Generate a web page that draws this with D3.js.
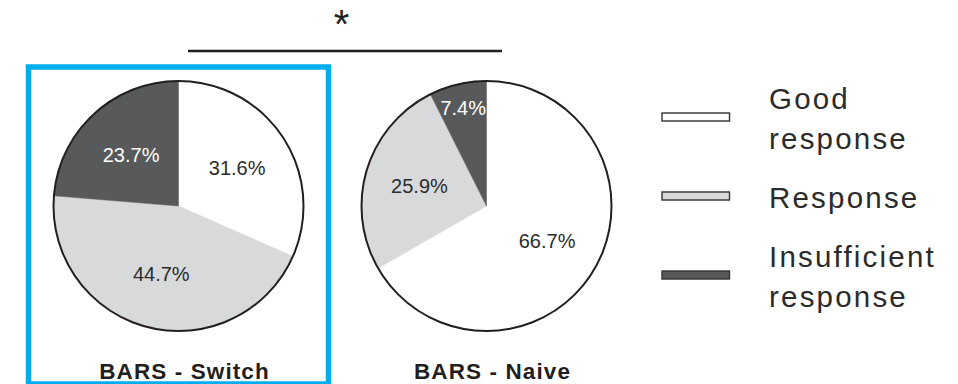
<!DOCTYPE html>
<html>
<head>
<meta charset="utf-8">
<script src="https://cdn.jsdelivr.net/npm/d3@7"></script>
<style>
  html, body { margin: 0; padding: 0; background: #fff; }
  svg { display: block; }
  text { font-family: "Liberation Sans", Arial, Helvetica, sans-serif; }
</style>
</head>
<body>
<svg id="chart" width="958" height="384"></svg>
<script>
// Response categories, in slice order (clockwise from 12 o'clock)
const categories = ["Good response", "Response", "Insufficient response"];
// Treatment groups, one pie each
const groups = ["BARS - Switch", "BARS - Naive"];
// Percentage of patients per category
const switchValues = [31.6, 44.7, 23.7];
const naiveValues = [66.7, 25.9, 7.4];
const groupValues = [switchValues, naiveValues];
// Significance marker between the two groups
const significanceLabel = "*";

const W = 958, H = 384;
const svg = d3.select("#chart");

const color = d3.scaleOrdinal()
  .domain(categories)
  .range(["#ffffff", "#d8d9db", "#58595b"]);
const labelColor = d3.scaleOrdinal()
  .domain(categories)
  .range(["#2b2b2b", "#2b2b2b", "#ffffff"]);

const R = 125;
const cy = 206;
const xPie = d3.scalePoint().domain(groups).range([178.5, 486.5]);

const pie = d3.pie().sort(null).value(d => d.value);
const arc = d3.arc().innerRadius(0).outerRadius(R);

// Highlight frame around the first group
const frameHalf = 150;
svg.append("rect")
  .attr("x", xPie(groups[0]) - frameHalf)
  .attr("y", 67)
  .attr("width", frameHalf * 2)
  .attr("height", 317)
  .attr("fill", "none")
  .attr("stroke", "#00aeef")
  .attr("stroke-width", 5.5);

groups.forEach((g, gi) => {
  const data = categories.map((c, i) => ({ category: c, value: groupValues[gi][i] }));
  const arcs = pie(data);
  const gp = svg.append("g").attr("transform", `translate(${xPie(g)},${cy})`);

  gp.selectAll("path.slice")
    .data(arcs)
    .join("path")
    .attr("class", "slice")
    .attr("d", arc)
    .attr("fill", d => color(d.data.category))
    .attr("stroke", d => color(d.data.category))
    .attr("stroke-width", 0.5);

  // Outline of the whole pie
  gp.append("circle")
    .attr("r", R)
    .attr("fill", "none")
    .attr("stroke", "#231f20")
    .attr("stroke-width", 2);

  // Percentage labels
  gp.selectAll("text.pct")
    .data(arcs)
    .join("text")
    .attr("class", "pct")
    .attr("transform", d => {
      const lr = d.data.value < 10 ? 101 : 70;
      const c = d3.arc().innerRadius(lr).outerRadius(lr).centroid(d);
      return `translate(${c[0]},${c[1]})`;
    })
    .attr("text-anchor", "middle")
    .attr("dy", "0.36em")
    .attr("font-size", 20)
    .attr("fill", d => labelColor(d.data.category))
    .text(d => d.data.value.toFixed(1) + "%");

  // Group name below the pie
  svg.append("text")
    .attr("x", xPie(g) + 6)
    .attr("y", 379)
    .attr("text-anchor", "middle")
    .attr("font-size", 22.5)
    .attr("font-weight", "bold")
    .attr("letter-spacing", 1.1)
    .attr("fill", "#231f20")
    .text(g);
});

// Significance bracket
svg.append("line")
  .attr("x1", 188).attr("x2", 502)
  .attr("y1", 51).attr("y2", 51)
  .attr("stroke", "#231f20")
  .attr("stroke-width", 2.6);
svg.append("text")
  .attr("x", 341.5)
  .attr("y", 38)
  .attr("text-anchor", "middle")
  .attr("font-size", 40)
  .attr("fill", "#231f20")
  .text(significanceLabel);

// Legend
const yLegend = d3.scalePoint().domain(categories).range([117, 275]);
const legend = svg.append("g");
categories.forEach(c => {
  const yc = yLegend(c);
  legend.append("rect")
    .attr("x", 662).attr("y", yc - 4)
    .attr("width", 67.5).attr("height", 8)
    .attr("fill", color(c))
    .attr("stroke", "#333333")
    .attr("stroke-width", 1.4);
  const words = c.split(" ");
  const lines = words.length > 1 ? words : [c];
  const t = legend.append("text")
    .attr("x", 769)
    .attr("font-size", 29.5)
    .attr("letter-spacing", 2.2)
    .attr("fill", "#2b2b2b");
  lines.forEach((ln, i) => {
    t.append("tspan")
      .attr("x", 769)
      .attr("y", yc + 12 - (lines.length - 1) * 20 + i * 40)
      .text(ln);
  });
});
</script>
</body>
</html>
